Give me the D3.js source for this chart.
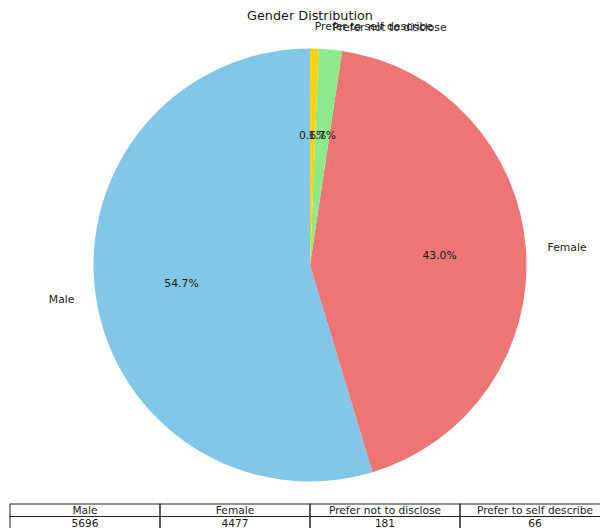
<!DOCTYPE html>
<html>
<head>
<meta charset="utf-8">
<script src="https://cdn.jsdelivr.net/npm/d3@7"></script>
<style>
  body { margin: 0; background: #fff; }
  text { font-family: "DejaVu Sans", sans-serif; fill: #1a1a1a; }
</style>
</head>
<body>
<svg id="chart" width="600" height="528"></svg>
<script>
const categories = ["Male", "Female", "Prefer not to disclose", "Prefer to self describe"]
const counts = [5696, 4477, 181, 66]
const colors = ["#82c7e7", "#eb7674", "#8ee88c", "#f9d20c"]

let svg = d3.select("#chart"),
    width = +svg.attr("width"),
    height = +svg.attr("height");

const cx = 310, cy = 265, r = 216.5
const total = d3.sum(counts)

svg.append("text")
    .attr("x", cx)
    .attr("y", 20)
    .attr("text-anchor", "middle")
    .attr("font-size", 12.8)
    .text("Gender Distribution");

// matplotlib style: start at top, go counterclockwise
let pie = d3.pie().sort(null).startAngle(0).endAngle(-2 * Math.PI)
let arcs = pie(counts)
let arc = d3.arc().innerRadius(0).outerRadius(r)

let g = svg.append("g").attr("transform", `translate(${cx},${cy})`)

g.selectAll("path")
    .data(arcs).enter()
    .append("path")
    .attr("d", arc)
    .attr("fill", (d, i) => colors[i])

const mid = d => (d.startAngle + d.endAngle) / 2

// outer labels
g.selectAll("text.lbl")
    .data(arcs).enter()
    .append("text")
    .attr("class", "lbl")
    .attr("x", d => Math.sin(mid(d)) * r * 1.1)
    .attr("y", d => -Math.cos(mid(d)) * r * 1.1)
    .attr("text-anchor", d => Math.sin(mid(d)) < 0 ? "end" : "start")
    .attr("dominant-baseline", "central")
    .attr("font-size", 10.8)
    .text((d, i) => categories[i]);

// percent labels
g.selectAll("text.pct")
    .data(arcs).enter()
    .append("text")
    .attr("class", "pct")
    .attr("x", d => Math.sin(mid(d)) * r * 0.6)
    .attr("y", d => -Math.cos(mid(d)) * r * 0.6)
    .attr("text-anchor", "middle")
    .attr("dominant-baseline", "central")
    .attr("font-size", 10.8)
    .text(d => (d.data / total * 100).toFixed(1) + "%");

// table under the pie
const tableX = 10, tableY = 504, colW = 150, rowH = 12.5
let x = d3.scaleBand().domain(categories).range([tableX, tableX + colW * categories.length])
let rows = [categories, counts.map(String)]

let table = svg.append("g")
rows.forEach((row, ri) => {
    table.selectAll("rect.r" + ri)
        .data(categories).enter()
        .append("rect")
        .attr("x", d => x(d))
        .attr("y", tableY + ri * rowH)
        .attr("width", x.bandwidth())
        .attr("height", rowH)
        .attr("fill", "none")
        .attr("stroke", "#222")
        .attr("stroke-width", 1);
    table.selectAll("text.r" + ri)
        .data(categories).enter()
        .append("text")
        .attr("x", d => x(d) + x.bandwidth() / 2)
        .attr("y", tableY + ri * rowH + rowH / 2)
        .attr("text-anchor", "middle")
        .attr("dominant-baseline", "central")
        .attr("font-size", 10.6)
        .text((d, i) => row[i]);
})
</script>
</body>
</html>
